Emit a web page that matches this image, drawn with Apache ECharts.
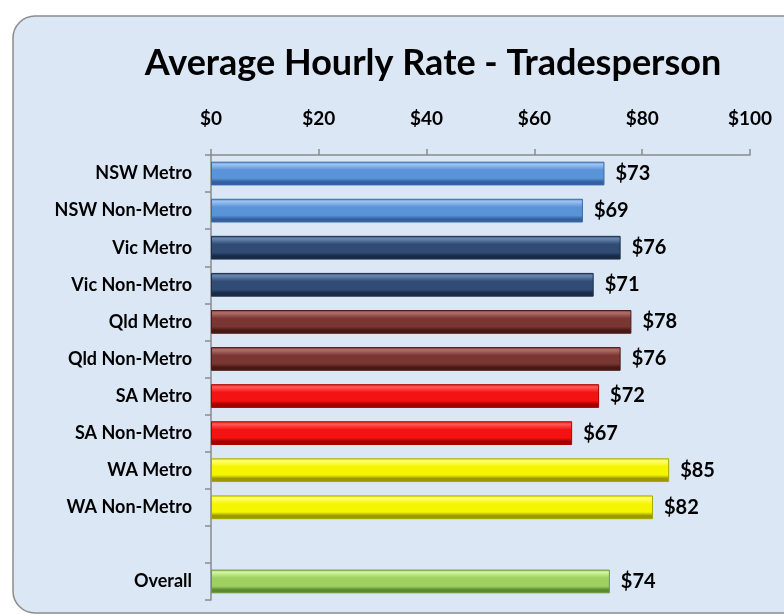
<!DOCTYPE html>
<html>
<head>
<meta charset="utf-8">
<script src="https://cdn.jsdelivr.net/npm/echarts@6/dist/echarts.min.js"></script>
<style>html,body{margin:0;padding:0;background:#fff}#c{width:784px;height:615px}</style>
</head>
<body>
<div id="c"></div>
<script>
const title = 'Average Hourly Rate - Tradesperson';
const categories = ['NSW Metro','NSW Non-Metro','Vic Metro','Vic Non-Metro','Qld Metro','Qld Non-Metro','SA Metro','SA Non-Metro','WA Metro','WA Non-Metro','','Overall'];
const values = [73,69,76,71,78,76,72,67,85,82,null,74];
const tickValues = [0,20,40,60,80,100];
// [top highlight, main, bottom shade, border]
const barColors = [
  ['#9cc3f0','#5b93d8','#34619d','#3a6aa8'],
  ['#9cc3f0','#5b93d8','#34619d','#3a6aa8'],
  ['#6a88b0','#304c75','#182a45','#1c2f4d'],
  ['#6a88b0','#304c75','#182a45','#1c2f4d'],
  ['#b0706b','#7a3632','#471816','#4e1b19'],
  ['#b0706b','#7a3632','#471816','#4e1b19'],
  ['#ff5a5a','#f41212','#a00000','#b00000'],
  ['#ff5a5a','#f41212','#a00000','#b00000'],
  ['#ffff70','#f5f500','#9a9a00','#a8a800'],
  ['#ffff70','#f5f500','#9a9a00','#a8a800'],
  null,
  ['#d2f5a0','#9fd062','#5a8a30','#6a9a3a']
];

function grad(c){
  return new echarts.graphic.LinearGradient(0,0,0,1,[
    {offset:0,color:c[1]},
    {offset:0.12,color:c[0]},
    {offset:0.35,color:c[1]},
    {offset:0.7,color:c[1]},
    {offset:0.85,color:c[2]},
    {offset:1,color:c[2]}
  ]);
}

const data = values.map((v,i)=>{
  if (v===null) return '-';
  const c = barColors[i];
  return {value:v,itemStyle:{color:grad(c),borderColor:c[3],borderWidth:1}};
});

const chart = echarts.init(document.getElementById('c'));
const FF = 'Lato, "Open Sans", sans-serif';
chart.setOption({
  backgroundColor:'#ffffff',
  animation:false,
  graphic:[{
    type:'rect', z:-10, silent:true,
    shape:{x:13,y:16,width:800,height:597,r:22},
    style:{fill:'#dbe7f5',stroke:'#8c8c8c',lineWidth:1.5}
  }],
  title:{
    text:title, left:428, top:40, textAlign:'center',
    textStyle:{fontFamily:FF,fontWeight:'bold',fontSize:36,color:'#000'}
  },
  grid:{left:211,right:34,top:155,bottom:15,containLabel:false},
  xAxis:{
    type:'value', position:'top', min:0, max:100, interval:20,
    axisLine:{show:true,lineStyle:{color:'#8a8a8a',width:1.5}},
    axisTick:{show:true,length:6,lineStyle:{color:'#8a8a8a',width:1.5}},
    splitLine:{show:false},
    axisLabel:{margin:27,fontFamily:FF,fontWeight:'bold',fontSize:19,color:'#000',
      formatter:v=>tickValues.indexOf(v)>=0?'$'+v:''}
  },
  yAxis:{
    type:'category', inverse:true, data:categories,
    axisLine:{show:true,lineStyle:{color:'#8a8a8a',width:1.5}},
    axisTick:{show:true,length:6,lineStyle:{color:'#8a8a8a',width:1.5}},
    axisLabel:{margin:19,fontFamily:FF,fontWeight:'bold',fontSize:18,color:'#000'}
  },
  series:[{
    type:'bar', data:data, barCategoryGap:'36%',
    label:{show:true,position:'right',distance:11,fontFamily:FF,fontWeight:'bold',fontSize:20,color:'#000',
      formatter:p=>'$'+p.value}
  }]
});
</script>
</body>
</html>
